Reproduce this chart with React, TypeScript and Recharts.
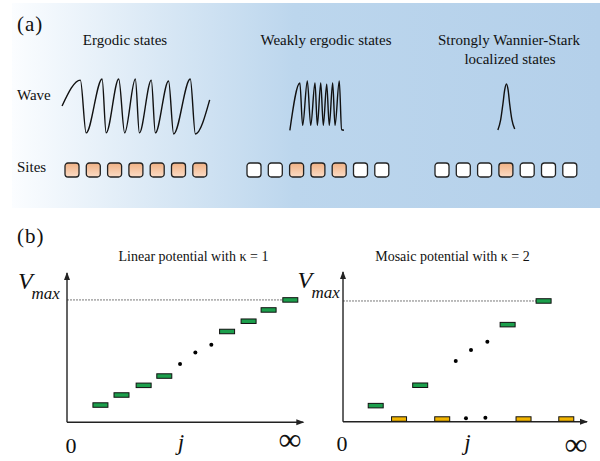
import React from 'react';
import { LineChart, Line, BarChart, Bar, Cell, ScatterChart, Scatter, XAxis, YAxis, ReferenceLine, ReferenceDot } from 'recharts';

const FONT = "'Liberation Serif', 'Times New Roman', Times, serif";

// ---- Panel (a): site occupations ----
const siteIndex = [0, 1, 2, 3, 4, 5, 6];
const ergodicSites = [1, 1, 1, 1, 1, 1, 1];
const weakSites = [0, 0, 1, 1, 1, 0, 0];
const strongSites = [0, 0, 0, 1, 0, 0, 0];

// ---- Panel (a): wave amplitudes (x in site units) ----
const ergodicWaveX = [-0.45, 0.41, 0.68, 1.43, 1.62, 2.21, 2.49, 2.99, 3.18, 3.74, 3.93, 4.55, 4.79, 5.57, 5.81, 6.48];
const ergodicWaveY = [0.02, 0.96, -0.96, 1.0, -0.96, 1.0, -0.96, 1.0, -0.96, 0.96, -0.96, 0.93, -1.0, 1.0, -1.0, 0.24];
const weakWaveX = [1.7, 2.17, 2.3, 2.52, 2.68, 2.88, 2.99, 3.15, 3.27, 3.43, 3.55, 3.71, 3.82, 4.02, 4.13, 4.24];
const weakWaveY = [-1, 0.92, -0.8, 1, -0.8, 0.92, -0.8, 0.92, -0.8, 0.87, -0.8, 0.92, -0.8, 1, -0.97, -1];
const strongWaveX = [2.64, 2.77, 2.88, 2.96, 3.04, 3.12, 3.19, 3.3, 3.43];
const strongWaveY = [0, 0.22, 0.58, 0.87, 1, 0.87, 0.58, 0.22, 0.02];

// ---- Panel (b): potentials ----
const linearBarX = [1.57, 2.56, 3.6, 4.57, 7.52, 8.53, 9.47, 10.49];
const linearBarV = [0.141, 0.223, 0.302, 0.378, 0.742, 0.826, 0.918, 1.0];
const linearDotX = [5.31, 6.03, 6.78];
const linearDotV = [0.476, 0.571, 0.633];

const mosaicGreenX = [1.5, 3.54, 7.55, 9.2];
const mosaicGreenV = [0.133, 0.302, 0.804, 1.0];
const mosaicYellowX = [2.57, 4.55, 8.28, 10.24];
const mosaicYellowV = [0.022, 0.022, 0.022, 0.022];
const mosaicDotX = [5.17, 5.87, 6.62];
const mosaicDotV = [0.503, 0.594, 0.663];
const mosaicZeroDotX = [5.64, 6.53];
const mosaicZeroDotV = [0.028, 0.033];

const VMAX = 1;

const zip = (xs: number[], ys: number[]) => xs.map((x, i) => ({ x, y: ys[i] }));

const SITE_W = 149.1;

function Sites({ left, occ }: { left: number; occ: number[] }) {
  const data = siteIndex.map((s, i) => ({ site: s, v: 1, on: occ[i] }));
  return (
    <div style={{ position: 'absolute', left, top: 162.5 }}>
      <BarChart width={SITE_W} height={14} data={data} margin={{ top: 0, right: 0, bottom: 0, left: 0 }}>
        <XAxis dataKey="site" hide />
        <YAxis domain={[0, 1]} hide />
        <Bar dataKey="v" barSize={14} radius={3} isAnimationActive={false}>
          {data.map((d, i) => (
            <Cell key={i} fill={d.on ? 'url(#peach)' : '#ffffff'} stroke="#222" strokeWidth={1.3} />
          ))}
        </Bar>
      </BarChart>
    </div>
  );
}

function Wave({ left, top, height, xs, ys, yDomain }: { left: number; top: number; height: number; xs: number[]; ys: number[]; yDomain: [number, number] }) {
  const data = xs.map((x, i) => ({ x, psi: ys[i] }));
  return (
    <div style={{ position: 'absolute', left, top }}>
      <LineChart width={SITE_W} height={height} data={data} margin={{ top: 0, right: 0, bottom: 0, left: 0 }}>
        <XAxis type="number" dataKey="x" domain={[-0.5, 6.5]} hide />
        <YAxis type="number" domain={yDomain} hide />
        <Line type="monotone" dataKey="psi" stroke="#111" strokeWidth={1.4} dot={false} isAnimationActive={false} />
      </LineChart>
    </div>
  );
}

const levelShape = (fill: string) => (props: any) => (
  <rect x={props.cx - 7.5} y={props.cy - 2.25} width={15} height={4.5} fill={fill} stroke="#111" strokeWidth={1} />
);
const dotShape = (props: any) => <circle cx={props.cx} cy={props.cy} r={2} fill="#000" />;
const arrowUp = (props: any) => (
  <path d={`M${props.cx},${props.cy - 1} L${props.cx - 3},${props.cy + 7} L${props.cx + 3},${props.cy + 7} Z`} fill="#222" />
);
const arrowRight = (props: any) => (
  <path d={`M${props.cx + 1},${props.cy} L${props.cx - 7},${props.cy - 3} L${props.cx - 7},${props.cy + 3} Z`} fill="#222" />
);

function Potential({ left, top, width, height, xMax, yMax, dashEnd, children }: any) {
  return (
    <div style={{ position: 'absolute', left, top }}>
      <ScatterChart width={width} height={height} margin={{ top: 0, right: 0, bottom: 0, left: 0 }}>
        <XAxis type="number" dataKey="x" domain={[0, xMax]} hide />
        <YAxis type="number" dataKey="y" domain={[0, yMax]} hide />
        <ReferenceLine segment={[{ x: 0, y: VMAX }, { x: dashEnd, y: VMAX }]} stroke="#555" strokeWidth={0.8} strokeDasharray="2 1" />
        <ReferenceLine segment={[{ x: 0, y: 0 }, { x: xMax, y: 0 }]} stroke="#222" strokeWidth={1.4} />
        <ReferenceLine segment={[{ x: 0, y: 0 }, { x: 0, y: yMax }]} stroke="#222" strokeWidth={1.4} />
        {children}
        <ReferenceDot x={0} y={yMax} r={0} shape={arrowUp} />
        <ReferenceDot x={xMax} y={0} r={0} shape={arrowRight} />
      </ScatterChart>
    </div>
  );
}

export default function App() {
  const T = (p: any) => <text fontFamily={FONT} fill="#111" {...p} />;
  return (
    <div style={{ position: 'absolute', left: 0, top: 0, width: 600, height: 461, background: '#fff', overflow: 'hidden' }}>
      <style>{`.recharts-surface{overflow:visible}`}</style>
      <svg width={0} height={0} style={{ position: 'absolute' }}>
        <defs>
          <linearGradient id="peach" x1="0" y1="0" x2="0" y2="1">
            <stop offset="0%" stopColor="#f0b184" />
            <stop offset="100%" stopColor="#fbdcc6" />
          </linearGradient>
        </defs>
      </svg>
      <div
        style={{
          position: 'absolute', left: 12, top: 3, width: 588, height: 205,
          background: 'linear-gradient(90deg, #fbfdff 0%, #d9e8f5 25%, #bcd6ed 48%, #b4d0ea 100%)',
        }}
      />

      <Wave left={60.65} top={79} height={55} xs={ergodicWaveX} ys={ergodicWaveY} yDomain={[-1, 1]} />
      <Wave left={243.05} top={80.7} height={49.3} xs={weakWaveX} ys={weakWaveY} yDomain={[-1, 1]} />
      <Wave left={431.35} top={84} height={46} xs={strongWaveX} ys={strongWaveY} yDomain={[0, 1]} />

      <Sites left={60.65} occ={ergodicSites} />
      <Sites left={243.05} occ={weakSites} />
      <Sites left={431.35} occ={strongSites} />

      <Potential left={66.7} top={273} width={236.3} height={149.3} xMax={11.1} yMax={1.22} dashEnd={10.49}>
        <Scatter data={zip(linearBarX, linearBarV)} shape={levelShape('#1c9f4c')} isAnimationActive={false} />
        <Scatter data={zip(linearDotX, linearDotV)} shape={dotShape} isAnimationActive={false} />
      </Potential>

      <Potential left={342.7} top={272} width={244} height={149.7} xMax={11.19} yMax={1.24} dashEnd={9.2}>
        <Scatter data={zip(mosaicGreenX, mosaicGreenV)} shape={levelShape('#1c9f4c')} isAnimationActive={false} />
        <Scatter data={zip(mosaicYellowX, mosaicYellowV)} shape={levelShape('#f1b400')} isAnimationActive={false} />
        <Scatter data={zip(mosaicDotX, mosaicDotV)} shape={dotShape} isAnimationActive={false} />
        <Scatter data={zip(mosaicZeroDotX, mosaicZeroDotV)} shape={dotShape} isAnimationActive={false} />
      </Potential>

      <svg width={600} height={461} style={{ position: 'absolute', left: 0, top: 0, pointerEvents: 'none' }}>
        <T x={17} y={31} fontSize={21} letterSpacing={1}>(a)</T>
        <T x={125} y={44.5} fontSize={15} textAnchor="middle">Ergodic states</T>
        <T x={326} y={44.5} fontSize={15} textAnchor="middle">Weakly ergodic states</T>
        <T x={509} y={44.5} fontSize={15} textAnchor="middle">Strongly  Wannier-Stark</T>
        <T x={510} y={63.5} fontSize={15} textAnchor="middle">localized states</T>
        <T x={17} y={100} fontSize={15}>Wave</T>
        <T x={17} y={172} fontSize={15}>Sites</T>

        <T x={17} y={243} fontSize={21} letterSpacing={1}>(b)</T>
        <T x={193.5} y={261} fontSize={14} textAnchor="middle">Linear potential with κ = 1</T>
        <T x={452.5} y={261} fontSize={14} textAnchor="middle">Mosaic potential with κ = 2</T>

        <T x={18} y={288.5} fontSize={24} fontStyle="italic">V</T>
        <T x={31.5} y={298.5} fontSize={17} fontStyle="italic">max</T>
        <T x={297.5} y={287.5} fontSize={24} fontStyle="italic">V</T>
        <T x={311.5} y={297.5} fontSize={17} fontStyle="italic">max</T>

        <T x={71} y={453} fontSize={22} textAnchor="middle">0</T>
        <T x={181} y={450} fontSize={23} fontStyle="italic" textAnchor="middle">j</T>
        <T x={290} y={450} fontSize={32} textAnchor="middle">∞</T>
        <T x={342} y={451} fontSize={22} textAnchor="middle">0</T>
        <T x={467.5} y={450} fontSize={23} fontStyle="italic" textAnchor="middle">j</T>
        <T x={576} y={455} fontSize={32} textAnchor="middle">∞</T>
      </svg>
    </div>
  );
}
